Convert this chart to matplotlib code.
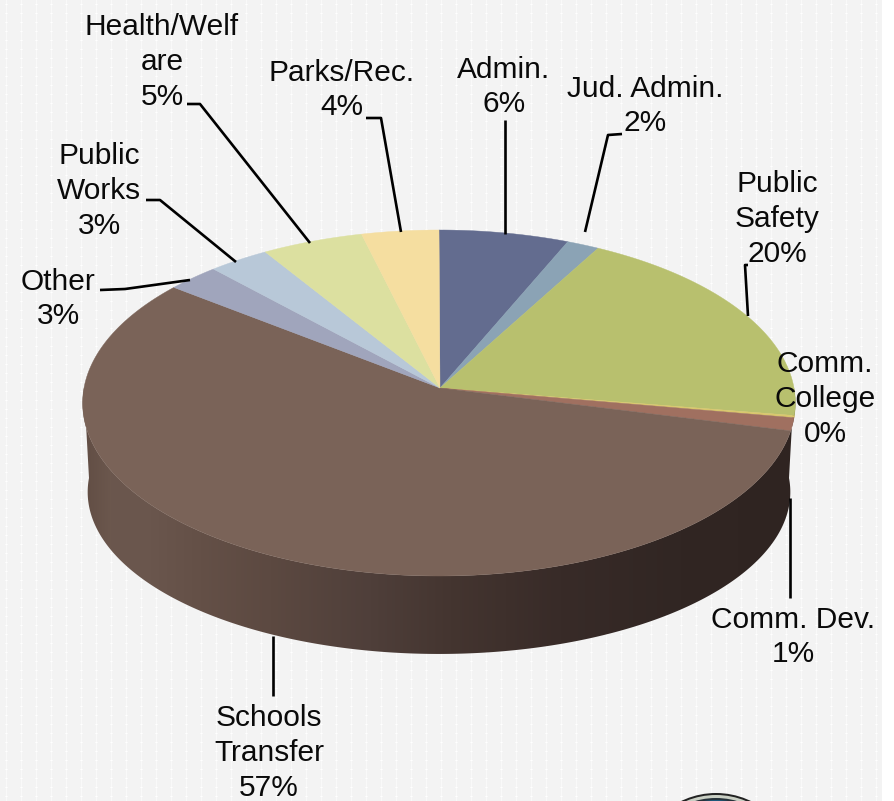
import numpy as np
import matplotlib
matplotlib.use("Agg")
import matplotlib.pyplot as plt
from matplotlib.patches import Polygon, Ellipse

categories = ["Admin.", "Jud. Admin.", "Public\nSafety", "Comm.\nCollege", "Comm. Dev.",
              "Schools\nTransfer", "Other", "Public\nWorks", "Health/Welf\nare", "Parks/Rec."]
values = [6.4, 1.6, 19.5, 0.2, 1.2, 56.6, 2.6, 3.0, 5.0, 3.8]
colors = ["#636c8f", "#8ba3b5", "#b8c06e", "#d9c76c", "#a07060", "#7a6358",
          "#a0a5bc", "#b8c8d8", "#dce0a0", "#f5dea0"]

W, H = 895, 801
plt.rcParams['font.family'] = ['Liberation Sans', 'DejaVu Sans']
fig = plt.figure(figsize=(W/100, H/100), dpi=100)
ax = fig.add_axes([0, 0, 1, 1])
ax.set_xlim(0, W); ax.set_ylim(H, 0); ax.axis('off')

# background texture
bg = np.full((H, W), 0.95)
bg[:, 6::15] = 0.975
bg[4::9, 6::15] = 1.0
bg[4::9, 5::15] = 0.98
bg[4::9, 7::15] = 0.98
bg[:, 882:] = 1.0
ax.imshow(bg, cmap='gray', vmin=0, vmax=1, extent=(0, W, H, 0), aspect='auto', zorder=0, interpolation='bilinear')

# projection of the tilted disc
CX, AY, B, A, K = 439.0, 388.0, 355.0, 171.7, 0.0867
BY, B2, A2 = 478.0, 350.0, 160.7

def top(t):
    s, c = np.sin(t), np.cos(t)
    d = 1 + K*c
    return np.c_[CX + B*s/d, AY - A*c/d]

def bot(t):
    s, c = np.sin(t), np.cos(t)
    d = 1 + K*c
    return np.c_[CX + B2*s/d, BY - A2*c/d]

frac = np.array(values) / sum(values)
edges = np.r_[0, np.cumsum(frac)] * 2*np.pi

# side wall, shaded from left to right
ts = np.linspace(np.pi/2, 3*np.pi/2, 300)
wall = np.r_[top(ts), bot(ts[::-1])]
wp = Polygon(wall, closed=True, fc='none', ec='none', zorder=1)
ax.add_patch(wp)
gx = np.array([85, 110, 150, 200, 270, 370, 450, 560, 680, 795.])
gv = np.array([[0x62,0x4e,0x45],[0x6b,0x57,0x4d],[0x6a,0x56,0x4d],[0x64,0x50,0x47],[0x5c,0x49,0x41],
               [0x4f,0x3f,0x3a],[0x44,0x35,0x30],[0x38,0x2b,0x28],[0x31,0x26,0x23],[0x2f,0x24,0x21]])/255
xx = np.arange(80, 800)
grad = np.stack([np.interp(xx, gx, gv[:, i]) for i in range(3)], axis=-1)[None, :, :]
im = ax.imshow(grad, extent=(80, 800, 700, 380), aspect='auto', zorder=1.1)
im.set_clip_path(wp)
ax.set_xlim(0, W); ax.set_ylim(H, 0)

# top face
for v0, v1, col in zip(edges[:-1], edges[1:], colors):
    n = max(3, int((v1 - v0) * 120))
    t = np.linspace(v0, v1, n)
    pts = np.r_[[[CX + 1, AY]], top(t)]
    ax.add_patch(Polygon(pts, closed=True, fc=col, ec=col, lw=0.3, zorder=2))

# leader lines
leaders = [
    [(187,104),(200,104),(310,243)],
    [(366,118),(381,118),(401,232)],
    [(505,120),(505,234)],
    [(622,134),(608,135),(585,232)],
    [(748,265),(745,265),(748,316)],
    [(146,200),(160,200),(236,262)],
    [(100,290),(125,289),(190,280)],
    [(790,498),(790,598)],
    [(273,636),(273,696)],
]
for l in leaders:
    a = np.array(l)
    ax.plot(a[:,0], a[:,1], color='black', lw=1.9, zorder=3, solid_capstyle='butt')

# labels: centre x, centre y
label_pos = [(504, 87), (645, 106), (777, 219), (825, 399), (793, 637),
             (269, 753), (58, 299), (99, 191), (162, 62), (342, 90)]
for name, v, (x, y) in zip(categories, values, label_pos):
    ax.text(x, y, f"{name}\n{v:.0f}%", ha='center', va='center', fontsize=21.5,
            linespacing=1.3, color='#0a0a0a', zorder=4)

# seal at the lower edge
for r, col in zip([80, 78, 75, 73], ['#222222', '#c9cfc4', '#26323a', '#1d5a7d']):
    ax.add_patch(Ellipse((716, 873), 2*r, 2*r, fc=col, ec='none', zorder=1))

fig.savefig("out.png", dpi=100)
